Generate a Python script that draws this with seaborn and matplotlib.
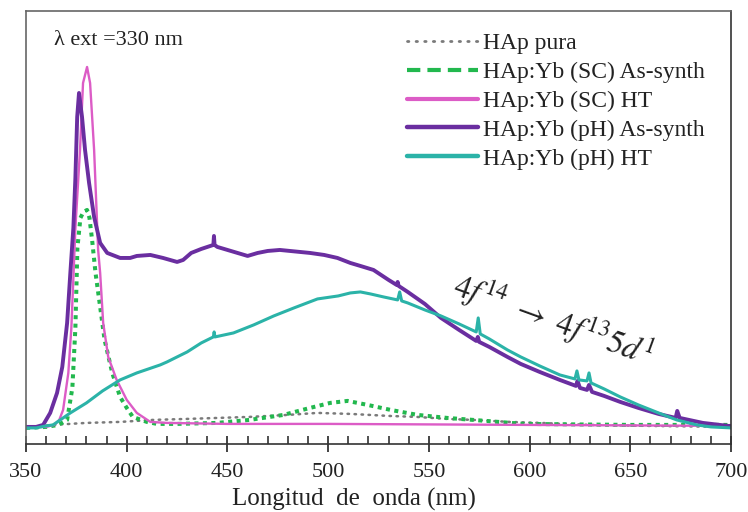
import matplotlib
matplotlib.use("Agg")
import matplotlib.pyplot as plt
from matplotlib.lines import Line2D
from matplotlib.ticker import MultipleLocator
import seaborn as sns

# Emission spectra (arbitrary intensity units), excitation at 330 nm
wl_pura = [350, 363, 380, 396.7, 413, 430, 461, 480, 494.7, 511, 530, 544, 559, 572, 590, 605, 630, 660, 700]
int_pura = [0, 3, 5, 6, 8, 9, 11, 13, 15, 14, 12, 11, 9, 8, 6, 5, 3, 2, 1]

wl_sc_as = [350, 360, 366, 370.4, 373, 374.5, 375.5, 377, 378.5, 380.3, 381.5, 382.8, 384.5, 386.8, 389,
            392.8, 396.7, 400, 403, 410, 415, 425, 445, 461, 477.8, 491, 501, 509.6, 519.6, 531, 544.4,
            559, 572, 597, 650, 700]
int_sc_as = [0, 1, 3, 8, 40, 100, 180, 210, 216, 218, 210, 188, 155, 121, 88,
             55, 31, 20, 11, 6, 4, 4, 5, 8, 13, 20, 25, 27, 23, 18, 13,
             10, 8, 4, 3, 3]

wl_sc_ht = [350, 360, 364, 366.5, 368.4, 371, 372.5, 374.5, 376.8, 378.3, 380.3, 381.8, 383.8, 385.8,
            386.8, 388.3, 390.8, 395, 400, 405, 411.7, 420, 450, 500, 600, 700]
int_sc_ht = [1, 1, 3, 8, 18, 55, 100, 200, 278, 345, 361, 345, 278, 178,
             155, 105, 71, 48, 28, 15, 6, 5, 4, 4, 3, 2]

wl_ph_as = [350, 355, 358.5, 362, 365.4, 368, 370.4, 372, 373.5, 374.5, 375.4, 376.3, 377.8, 379.3,
            381.3, 383.8, 386.8, 390.3, 396.7, 401.7, 405, 411.7, 418, 425, 428, 432, 437, 441.5,
            443, 443.3, 443.6, 445, 450, 455, 460, 465, 470, 476, 481, 486, 491, 498, 504.6, 511,
            516, 522.5, 530, 534, 534.5, 535, 539.5, 548, 556, 565, 573.5, 574.3, 575, 580, 589,
            595.6, 605, 615, 623, 623.8, 625, 628.5, 629.5, 631, 637, 645, 654, 664, 672.5, 673.3,
            674.5, 686, 698.6, 700]
int_ph_as = [1, 1, 3, 15, 35, 61, 105, 155, 200, 250, 311, 335, 311, 278,
             245, 211, 185, 175, 170, 170, 172, 173, 170, 166, 168, 175, 179, 182,
             183, 192, 183, 181, 178, 175, 172, 175, 177, 178, 177, 176, 175, 173, 170, 165,
             162, 158, 148, 143, 146, 142, 136, 124, 110, 98, 87, 91, 86, 81, 71,
             64, 56, 48, 42, 47, 40, 38, 43, 36, 32, 26, 20, 14, 10, 17,
             10, 5, 2, 2]

wl_ph_ht = [350, 355, 360, 363.4, 367, 372, 376, 380, 388, 396.7, 405, 416.6, 420, 430, 437, 443,
            443.4, 443.8, 453, 463, 473, 483, 494.7, 505, 511, 516, 521, 527.5, 534.5, 535.5, 536.5,
            539.5, 548, 556, 565, 573.5, 574.5, 575.5, 580, 589, 595.6, 605, 615, 622.5, 623.5,
            624.5, 628.5, 629.5, 630.5, 637, 645, 654, 664, 673, 683, 690, 700]
int_ph_ht = [0, 0, 2, 3, 8, 15, 20, 25, 37, 48, 55, 63, 66, 76, 85, 91,
             96, 91, 95, 103, 112, 120, 129, 132, 135, 136, 134, 131, 128, 136, 127,
             125, 118, 112, 104, 96, 110, 94, 89, 78, 71, 62, 53, 49, 57,
             48, 47, 55, 45, 39, 31, 23, 15, 8, 3, 1, 0]

labels = ["HAp pura", "HAp:Yb (SC) As-synth", "HAp:Yb (SC) HT",
          "HAp:Yb (pH) As-synth", "HAp:Yb (pH) HT"]
colors = ["#7a7a7a", "#22b84e", "#dc5cc6", "#6a2ea0", "#2bb3a8"]
x_ticks = [350, 400, 450, 500, 550, 600, 650, 700]

sns.set_style("white")
plt.rcParams["font.family"] = ["Liberation Serif", "DejaVu Serif"]
plt.rcParams["mathtext.fontset"] = "stix"

fig = plt.figure(figsize=(7.48, 5.12), dpi=100)
ax = fig.add_axes([0.0348, 0.133, 0.9425, 0.8455])

common = dict(ax=ax, sort=False, estimator=None, legend=False)
sns.lineplot(x=wl_pura, y=int_pura, color=colors[0], lw=1.8,
             linestyle=(0, (0.6, 2.2)), dash_capstyle="round", **common)
sns.lineplot(x=wl_sc_as, y=int_sc_as, color=colors[1], lw=2.9,
             linestyle=(0, (1.0, 1.1)), **common)
sns.lineplot(x=wl_sc_ht, y=int_sc_ht, color=colors[2], lw=1.7, **common)
sns.lineplot(x=wl_ph_as, y=int_ph_as, color=colors[3], lw=2.8, **common)
sns.lineplot(x=wl_ph_ht, y=int_ph_ht, color=colors[4], lw=2.2, **common)

ax.set_xlim(350, 700)
ax.set_ylim(-16, 417)
ax.set_yticks([])
ax.set_xticks(x_ticks)
ax.xaxis.set_minor_locator(MultipleLocator(10))
ax.tick_params(axis="x", which="major", direction="inout", length=12, width=1.2,
               bottom=True, top=False, labelsize=16, pad=8, colors="#222222")
ax.tick_params(axis="x", which="minor", direction="in", length=6, width=1.1,
               bottom=True, top=False, colors="#222222")
for side, spine in ax.spines.items():
    spine.set_visible(True)
    spine.set_linewidth(1.2)
    spine.set_color("#333333" if side in ("bottom", "right") else "#666666")

ax.set_xlabel("Longitud  de  onda (nm)", fontsize=18, color="#222222")
ax.xaxis.set_label_coords(0.465, -0.101)

ax.text(0.04, 0.932, "λ ext =330 nm", transform=ax.transAxes, fontsize=16,
        ha="left", va="center", color="#222222")
ax.text(0.748, 0.285, r"$4f^{14}\ \rightarrow\ 4f^{13}5d^{1}$", transform=ax.transAxes,
        fontsize=23.5, rotation=-20, ha="center", va="center", color="#222222")

handles = [
    Line2D([], [], color=colors[0], lw=2.0, linestyle=(0, (0.5, 2.6)), dash_capstyle="round"),
    Line2D([], [], color=colors[1], lw=3.0, linestyle=(0, (3.2, 1.7))),
    Line2D([], [], color=colors[2], lw=3.0),
    Line2D([], [], color=colors[3], lw=3.2),
    Line2D([], [], color=colors[4], lw=3.2),
]
leg = ax.legend(handles, labels, loc="upper left", bbox_to_anchor=(0.541, 0.95),
                frameon=False, fontsize=17, handlelength=3.0, handletextpad=0.2,
                labelspacing=0.31, borderpad=0, borderaxespad=0)
for t in leg.get_texts():
    t.set_color("#222222")

fig.savefig("out.png", dpi=100)
